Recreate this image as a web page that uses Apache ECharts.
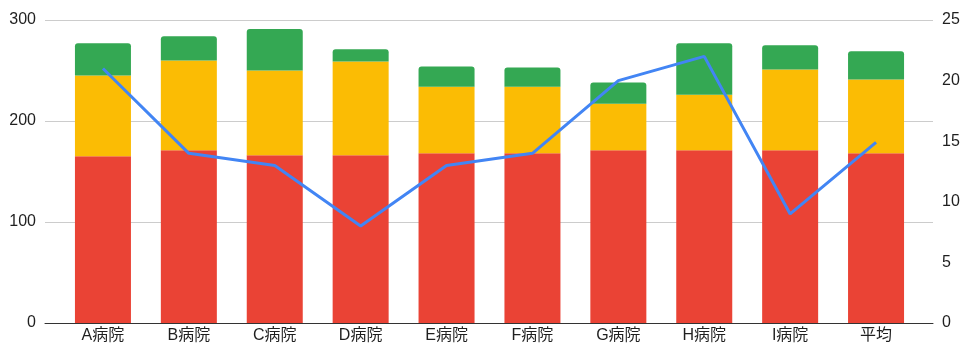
<!DOCTYPE html>
<html>
<head>
<meta charset="utf-8">
<script src="https://cdn.jsdelivr.net/npm/echarts@6/dist/echarts.min.js"></script>
<style>
  html, body { margin: 0; padding: 0; background: #fff; }
  #chart { width: 965px; height: 347px; }
</style>
</head>
<body>
<div id="chart"></div>
<script>
// Hospitals along the category axis
const categories = ['A病院', 'B病院', 'C病院', 'D病院', 'E病院', 'F病院', 'G病院', 'H病院', 'I病院', '平均'];

// Stacked bar segments (left axis)
const redValues    = [165, 171, 166, 166, 168, 168, 171, 171, 171, 168];
const yellowValues = [80, 89, 84, 93, 66, 66, 46, 55, 80, 73];
const greenValues  = [32, 24, 41, 12, 20, 19, 21, 51, 24, 28];

// Line series (right axis)
const lineValues = [21, 14, 13, 8, 13, 14, 20, 22, 9, 14.9];

// Axis ticks
const leftTicks = [0, 100, 200, 300];
const rightTicks = [0, 5, 10, 15, 20, 25];

const FONT = '"Liberation Sans", Arial, "Noto Sans CJK JP", sans-serif';
const TEXT = '#1f1f1f';

const chart = echarts.init(document.getElementById('chart'), null, { renderer: 'canvas' });

const option = {
  backgroundColor: '#ffffff',
  animation: false,
  textStyle: { fontFamily: FONT },
  grid: [
    // frame grid: gridlines, baseline and tick labels
    { left: 45, right: 32, top: 20, bottom: 24, containLabel: false },
    // plotting grid: bars and line
    { left: 60, right: 46, top: 20, bottom: 24, containLabel: false }
  ],
  xAxis: [
    {
      gridIndex: 0, type: 'value', min: 0, max: 1,
      axisLine: { show: true, onZero: false, lineStyle: { color: '#333333', width: 1 } },
      axisTick: { show: false }, axisLabel: { show: false }, splitLine: { show: false }
    },
    {
      gridIndex: 1, type: 'category', data: categories,
      axisLine: { show: false }, axisTick: { show: false },
      axisLabel: { color: TEXT, fontSize: 16, fontFamily: FONT, margin: 5, interval: 0 }
    }
  ],
  yAxis: [
    {
      gridIndex: 0, type: 'value', min: leftTicks[0], max: leftTicks[leftTicks.length - 1], interval: 100,
      position: 'left',
      axisLine: { show: false }, axisTick: { show: false },
      axisLabel: { color: TEXT, fontSize: 16, fontFamily: FONT, margin: 9 },
      splitLine: { show: true, lineStyle: { color: '#cccccc', width: 1 } }
    },
    {
      gridIndex: 0, type: 'value', min: rightTicks[0], max: rightTicks[rightTicks.length - 1], interval: 5,
      position: 'right',
      axisLine: { show: false }, axisTick: { show: false },
      axisLabel: { color: TEXT, fontSize: 16, fontFamily: FONT, margin: 9 },
      splitLine: { show: false }
    },
    {
      gridIndex: 1, type: 'value', min: 0, max: 300, show: false
    },
    {
      gridIndex: 1, type: 'value', min: 0, max: 25, show: false
    }
  ],
  series: [
    {
      type: 'bar', stack: 'total', xAxisIndex: 1, yAxisIndex: 2,
      data: redValues, barWidth: 56,
      itemStyle: { color: '#EA4335' }
    },
    {
      type: 'bar', stack: 'total', xAxisIndex: 1, yAxisIndex: 2,
      data: yellowValues, barWidth: 56,
      itemStyle: { color: '#FBBC04' }
    },
    {
      type: 'bar', stack: 'total', xAxisIndex: 1, yAxisIndex: 2,
      data: greenValues, barWidth: 56,
      itemStyle: { color: '#34A853', borderRadius: [3, 3, 0, 0] }
    },
    {
      type: 'line', xAxisIndex: 1, yAxisIndex: 3,
      data: lineValues, symbol: 'none',
      lineStyle: { color: '#4285F4', width: 3 },
      z: 5
    }
  ]
};

chart.setOption(option);
</script>
</body>
</html>
